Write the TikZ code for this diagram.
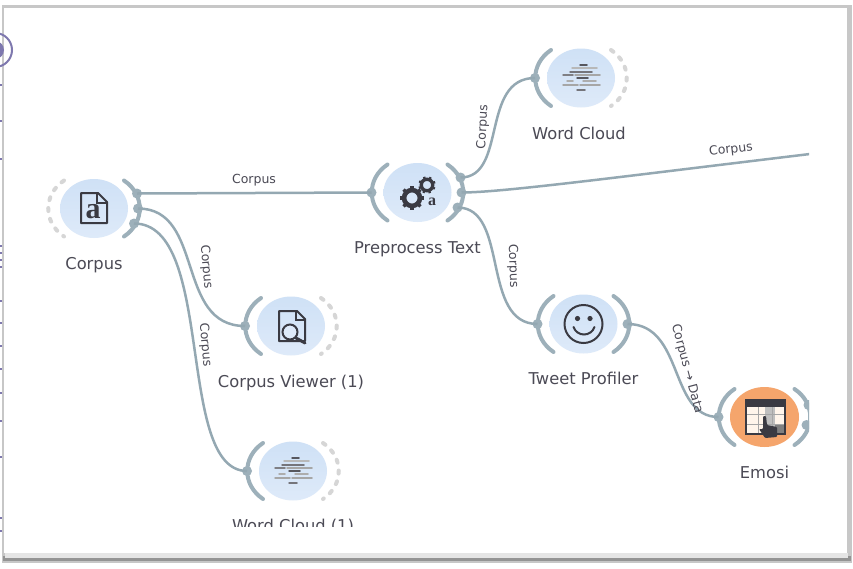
\documentclass[tikz,border=0pt]{standalone}
\usepackage{fontspec}
\setmainfont{DejaVu Sans}
\newfontfamily\iconfont{Liberation Serif}
\usetikzlibrary{shapes.geometric}
\definecolor{chan}{HTML}{9DB0BA}
\definecolor{wire}{HTML}{94A8B2}
\definecolor{ink}{HTML}{3A3A42}
\definecolor{capt}{HTML}{4B4A55}
\definecolor{blobtop}{HTML}{CFE1F6}
\definecolor{blobbottom}{HTML}{DEEAF9}
\definecolor{hot}{HTML}{F5A56C}
\definecolor{stray}{HTML}{7E78AE}
\tikzstyle{blob} = [ellipse, minimum width=68pt, minimum height=59pt, inner sep=0pt, top color=blobtop, bottom color=blobbottom]
\tikzstyle{hotblob} = [ellipse, minimum width=69pt, minimum height=60pt, inner sep=0pt, fill=hot]
\tikzstyle{caption} = [font=\fontsize{16.3}{19}\selectfont, text=capt, inner sep=0pt]
\tikzstyle{wirelabel} = [font=\fontsize{12.5}{15}\selectfont, text=capt, inner sep=0pt]
\tikzstyle{port} = [circle, fill=chan, minimum size=10pt, inner sep=0pt]
\tikzstyle{wireline} = [line width=2.5pt, color=wire]
\tikzstyle{channel} = [line width=4pt, color=chan, line cap=round]
\tikzstyle{nochannel} = [line width=4pt, color=black!16, dash pattern=on 3pt off 8pt, line cap=round]
\tikzstyle{iconline} = [line width=2pt, color=ink]
\tikzstyle{cloudline} = [line width=1.5pt, line cap=round]
\newcommand{\leftarc}[2]{\draw [#2, shift={(#1.center)}] (-30,-28) .. controls (-51,-14) and (-51,14) .. (-30,28);}
\newcommand{\rightarc}[2]{\draw [#2, shift={(#1.center)}] (30,-28) .. controls (51,-14) and (51,14) .. (30,28);}
\newcommand{\cloudicon}[1]{
\begin{scope}[shift={(#1.center)}]
\draw [cloudline, ink!85] (-1,-13) -- (6,-13);
\draw [cloudline, black!28] (-9,-10) -- (16,-10);
\draw [cloudline, ink!70] (-11,-6) -- (11,-6);
\draw [cloudline, ink!65] (-18,-3) -- (-8,-3);
\draw [cloudline, black!35] (-6,-3) -- (19,-3);
\draw [cloudline, ink!85] (-4,0) -- (7,0);
\draw [cloudline, black!32] (-14,3) -- (-8,3) (2,3) -- (15,3);
\draw [cloudline, black!35] (-18,7) -- (-3,7) (-1,7) -- (19,7);
\draw [cloudline, ink!70] (-4,12) -- (4,12);
\end{scope}}
\newcommand{\gearicon}[3]{
\begin{scope}[shift={(#1)}]
\draw [color=ink, line width=#2*0.42pt] (0,0) circle (#2*0.72);
\foreach \ang in {0,45,...,315} {\draw [color=ink, line width=#2*0.3pt, rotate=\ang+#3] (0,#2*0.7) -- (0,#2*1.08);}
\end{scope}}
\begin{document}
\begin{tikzpicture}[x=1pt, y=-1pt, node distance=55pt]
\useasboundingbox (0,0) rectangle (853,568);
\fill [black!22] (2,5) rectangle (852,563);
\fill [black!42] (3,556) rectangle (851,561);
\fill [black!10] (5,553) rectangle (848,558);
\fill [white] (4,8) rectangle (847,553);
\draw [line width=2pt, color=stray] (-5,50) circle (17);
\fill [color=stray] (-5,50) circle (9);
\foreach \ypos in {84,120,158,245,252,259,266,300,322,345,368,392,420,456,517,530} {\fill [color=stray] (0,\ypos) rectangle (2,\ypos+2);}

\begin{scope}
\clip (4,8) rectangle (809,526);
\node (corpus) [blob] at (94,208.5) {};
\node (preprocess) [blob, right of = corpus, xshift = 268.5pt, yshift = 16pt] {};
\node (wordcloud) [blob, right of = preprocess, xshift = 108.5pt, yshift = 114.5pt] {};
\node (viewer) [blob, right of = corpus, xshift = 142pt, yshift = -117.5pt] {};
\node (wordcloudone) [blob, below of = viewer, xshift = 2pt, yshift = -90pt] {};
\node (profiler) [blob, below of = wordcloud, xshift = 2.5pt, yshift = -191pt] {};
\node (emosi) [hotblob, right of = profiler, xshift = 126pt, yshift = -93pt] {};

\node (corpuslabel) [caption, below of = corpus, yshift = -2pt] {Corpus};
\node (preprocesslabel) [caption, below of = preprocess, yshift = -2pt] {Preprocess Text};
\node (wordcloudlabel) [caption, below of = wordcloud, xshift = -2pt] {Word Cloud};
\node (viewerlabel) [caption, below of = viewer, yshift = -2pt] {Corpus Viewer (1)};
\node (wordcloudonelabel) [caption, below of = wordcloudone] {Word Cloud (1)};
\node (profilerlabel) [caption, below of = profiler, yshift = 1pt] {Tweet Profiler};
\node (emosilabel) [caption, below of = emosi] {Emosi};

\leftarc{corpus}{nochannel}
\rightarc{corpus}{channel}
\leftarc{preprocess}{channel}
\rightarc{preprocess}{channel}
\leftarc{wordcloud}{channel}
\rightarc{wordcloud}{nochannel}
\leftarc{viewer}{channel}
\rightarc{viewer}{nochannel}
\leftarc{wordcloudone}{channel}
\rightarc{wordcloudone}{nochannel}
\leftarc{profiler}{channel}
\rightarc{profiler}{channel}
\leftarc{emosi}{channel}
\rightarc{emosi}{channel}

\node (corpusouta) [port] at ([shift={(43,-15)}]corpus.center) {};
\node (corpusoutb) [port] at ([shift={(44,0)}]corpus.center) {};
\node (corpusoutc) [port] at ([shift={(40,15)}]corpus.center) {};
\node (preprocessin) [port] at ([shift={(-46,0)}]preprocess.center) {};
\node (preprocessouta) [port] at ([shift={(43,-15)}]preprocess.center) {};
\node (preprocessoutb) [port] at ([shift={(44,0)}]preprocess.center) {};
\node (preprocessoutc) [port] at ([shift={(40,15)}]preprocess.center) {};
\node (wordcloudin) [port] at ([shift={(-46,0)}]wordcloud.center) {};
\node (viewerin) [port] at ([shift={(-46,0)}]viewer.center) {};
\node (wordcloudonein) [port] at ([shift={(-46,0)}]wordcloudone.center) {};
\node (profilerin) [port] at ([shift={(-46,0)}]profiler.center) {};
\node (profilerout) [port] at ([shift={(44,0)}]profiler.center) {};
\node (emosiin) [port] at ([shift={(-46,0)}]emosi.center) {};
\node (emosiouta) [port] at ([shift={(44,-12)}]emosi.center) {};
\node (emosioutb) [port] at ([shift={(42,8)}]emosi.center) {};
\coordinate (offpage) at (815,153.4);

\draw [wireline] (corpusouta.center) -- (preprocessin.center);
\draw [wireline] (corpusoutb.center) .. controls +(67,0) and +(-70,0) .. (viewerin.center);
\draw [wireline] (corpusoutc.center) .. controls +(82,0) and +(-72,0) .. (wordcloudonein.center);
\draw [wireline] (preprocessouta.center) .. controls +(47,0) and +(-55,0) .. (wordcloudin.center);
\draw [wireline] (preprocessoutb.center) .. controls +(40,0) and +(-200,24) .. (offpage);
\draw [wireline] (preprocessoutc.center) .. controls +(52,0) and +(-57,0) .. (profilerin.center);
\draw [wireline] (profilerout.center) .. controls +(57,0) and +(-50,0) .. (emosiin.center);

\node (wirea) [wirelabel] at (254,180) {Corpus};
\node (wireb) [wirelabel, rotate=-85] at (206,267) {Corpus};
\node (wirec) [wirelabel, rotate=-85] at (205,345) {Corpus};
\node (wired) [wirelabel, rotate=87] at (483,127) {Corpus};
\node (wiree) [wirelabel, rotate=7] at (731,150) {Corpus};
\node (wiref) [wirelabel, rotate=-88] at (513,266) {Corpus};
\node (wireg) [wirelabel, rotate=-75] at (687,369) {Corpus → Data};

\draw [iconline, line join=round] (81,193) -- (98,193) -- (107,202) -- (107,223) -- (81,223) -- cycle;
\draw [line width=1.4pt, color=ink] (97,193) -- (97,203) -- (107,203);
\node (corpusicon) [inner sep=0pt, text=ink] at (93,212) {\iconfont\fontsize{30}{30}\selectfont\bfseries a};

\gearicon{412,198}{11}{0}
\gearicon{427,185}{8}{20}
\node (preprocessicon) [inner sep=0pt, text=ink] at (432,202) {\iconfont\fontsize{16}{16}\selectfont\bfseries a};

\cloudicon{wordcloud}
\cloudicon{wordcloudone}

\draw [iconline, line join=round] (279,311) -- (297,311) -- (305,319) -- (305,341) -- (279,341) -- cycle;
\draw [line width=1.4pt, color=ink] (296,311) -- (296,320) -- (305,320);
\fill [blobbottom] (290,332) circle (8);
\draw [iconline] (290,332) circle (7.5);
\draw [line width=3pt, color=ink, line cap=round] (296,338) -- (305,343);

\draw [iconline] (profiler.center) circle (19);
\fill [ink] (577.5,318.5) circle (2.6) (590,318.5) circle (2.6);
\draw [iconline, line cap=round] (573.5,327) .. controls (577,337) and (591,337) .. (594.5,327);

\fill [white!92!orange] (746,400) rectangle (785,434);
\fill [black!25] (765,406) rectangle (775,428);
\fill [black!50] (775,424) rectangle (784,433);
\draw [line width=.8pt, color=black!35] (746,414) -- (785,414) (746,424) -- (785,424) (758,406) -- (758,433) (772,406) -- (772,433);
\fill [ink] (746,400) rectangle (785,406.5);
\draw [iconline] (746,400) rectangle (785,434);
\fill [ink, rounded corners=1pt] (763,416) -- (766,416) -- (767,425) -- (777,427) -- (777,437) -- (765,438) -- (759,429) -- (763,429) -- cycle;
\end{scope}
\end{tikzpicture}
\end{document}
